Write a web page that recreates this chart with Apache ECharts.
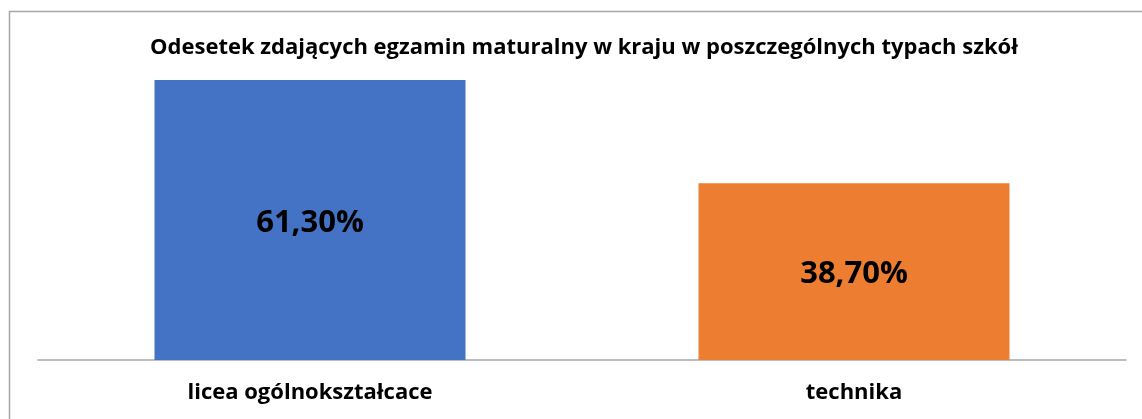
<!DOCTYPE html>
<html>
<head>
<meta charset="utf-8">
<script src="https://cdn.jsdelivr.net/npm/echarts@6/dist/echarts.min.js"></script>
<style>html,body{margin:0;padding:0;background:#fff;}#c{width:1142px;height:419px;}</style>
</head>
<body>
<div id="c"></div>
<script>
const titleText = 'Odesetek zdających egzamin maturalny w kraju w poszczególnych typach szkół';
const categories = ['licea ogólnokształcace', 'technika'];
const values = [61.3, 38.7];
const colors = ['#4472C4', '#ED7D31'];

const FONT = '"Open Sans", "Liberation Sans", sans-serif';
const chart = echarts.init(document.getElementById('c'), null, {renderer: 'canvas'});
chart.setOption({
  animation: false,
  backgroundColor: '#ffffff',
  graphic: [
    {type: 'rect', shape: {x: 9.5, y: 11.5, width: 1300, height: 600},
     style: {fill: 'none', stroke: '#A6A6A6', lineWidth: 1.5}, silent: true, z: -1},
    {type: 'text', x: 584, y: 48,
     style: {text: titleText, font: 'bold 22px ' + FONT, fill: '#000', align: 'center', verticalAlign: 'middle'}}
  ],
  grid: {left: 38, right: 16, top: 80, bottom: 59, containLabel: false},
  xAxis: {
    type: 'category', data: categories,
    axisLine: {show: true, lineStyle: {color: '#A6A6A6', width: 1.5}},
    axisTick: {show: false},
    axisLabel: {color: '#000', fontFamily: FONT, fontWeight: 'bold', fontSize: 22, margin: 22}
  },
  yAxis: {type: 'value', min: 0, max: 61.3, show: false, splitLine: {show: false}},
  series: [{
    type: 'bar',
    data: values.map((v, i) => ({value: v, itemStyle: {color: colors[i]}})),
    barWidth: 311,
    label: {
      show: true, position: 'inside', offset: [0, 3],
      color: '#000', fontFamily: FONT, fontWeight: 'bold', fontSize: 31,
      formatter: p => p.value.toFixed(2).replace('.', ',') + '%'
    }
  }]
});
</script>
</body>
</html>
